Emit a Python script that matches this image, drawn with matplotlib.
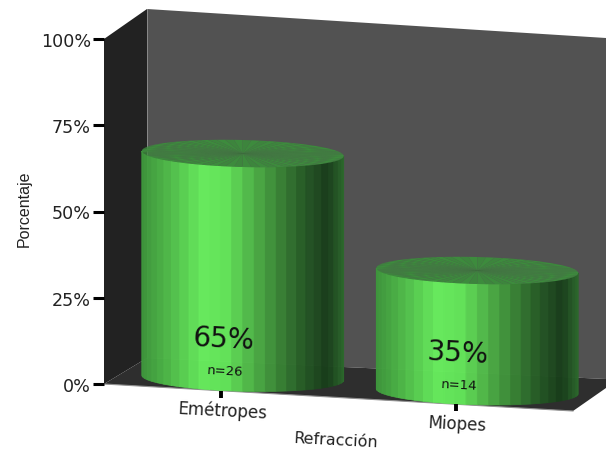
import numpy as np
import matplotlib
matplotlib.use('Agg')
import matplotlib.pyplot as plt
from matplotlib.patches import Polygon

categories = ['Emétropes', 'Miopes']
percentages = [65, 35]
counts = [26, 14]
y_ticks = [0, 25, 50, 75, 100]

# oblique box: 0-1 along the front edge, 0-1 in depth, pixels per percent
FRONT_W, FRONT_DROP = 469, 27
DEPTH_X, DEPTH_Y = 43, 26
PCT_PX = 3.45
RADIUS_X, RADIUS_Y = 101, 13.5
TILT = 0.025

def project(u, pct=0, d=0):
    x = 104 + FRONT_W * u + DEPTH_X * d
    y = 385 + FRONT_DROP * u - DEPTH_Y * d - PCT_PX * pct
    return x, y

# side shading from left edge to right edge of the cylinder
shade_pos = [0.0, 0.12, 0.30, 0.42, 0.62, 0.80, 0.92, 1.0]
shade_rgb = [(62, 150, 60), (78, 185, 72), (104, 240, 94), (100, 232, 90),
             (68, 155, 62), (38, 92, 38), (24, 60, 26), (44, 105, 44)]

def side_colour(t):
    return tuple(np.interp(t, shade_pos, [c[i] for c in shade_rgb]) / 255 for i in range(3))

def draw_cylinder(ax, cx, cy, height, n_facets=28):
    angles = np.linspace(np.pi, 0, n_facets + 1)
    for a0, a1 in zip(angles[:-1], angles[1:]):
        arc = np.linspace(a0, a1, 4)
        xs = cx + RADIUS_X * np.cos(arc)
        ys = cy + RADIUS_Y * np.sin(arc) + TILT * RADIUS_X * np.cos(arc)
        pts = list(zip(xs, ys - height)) + list(zip(xs[::-1], ys[::-1]))
        t = (np.cos((a0 + a1) / 2) + 1) / 2
        ax.add_patch(Polygon(pts, closed=True, facecolor=side_colour(t),
                             edgecolor=side_colour(t), lw=0.5, alpha=0.96, zorder=3))
    # top face, built of thin wedges
    wedge_angles = np.linspace(0, 2 * np.pi, 73)
    tx = cx + RADIUS_X * np.cos(wedge_angles)
    ty = cy - height + RADIUS_Y * np.sin(wedge_angles) + TILT * RADIUS_X * np.cos(wedge_angles)
    for i in range(72):
        g = 0.52 + 0.025 * (i % 2)
        ax.add_patch(Polygon([(cx, cy - height), (tx[i], ty[i]), (tx[i + 1], ty[i + 1])],
                             facecolor=(0.24, g, 0.24), edgecolor='none', zorder=4))

plt.rcParams['font.family'] = ['DejaVu Sans']
fig = plt.figure(figsize=(6.06, 4.52), dpi=100)
ax = fig.add_axes([0, 0, 1, 1])
ax.set_xlim(0, 606)
ax.set_ylim(452, 0)
ax.axis('off')

# walls and floor
ax.add_patch(Polygon([(147, 10), (606, 39), (606, 380), (147, 359)], facecolor='#525252', edgecolor='none', zorder=1))
ax.add_patch(Polygon([(104, 40), (147, 10), (147, 359), (104, 385)], facecolor='#222222', edgecolor='none', zorder=1))
ax.add_patch(Polygon([(104, 385), (147, 359), (606, 380), (606, 389), (573, 412)], facecolor='#2e2e2e', edgecolor='none', zorder=2))
ax.plot([147, 147], [10, 359], color='#8a8a8a', lw=0.7, zorder=2)
ax.plot([104, 573], [385, 412], color='#909090', lw=0.8, zorder=2)

# percent axis
for tick in y_ticks:
    x0, y0 = project(0, tick)
    ax.plot([x0 - 11, x0], [y0, y0], color='black', lw=2.2, solid_capstyle='butt', zorder=5)
    ax.text(x0 - 13, y0, f'{tick}%', ha='right', va='center_baseline', fontsize=12.6, color='#222222')

# cylinders with their labels
for i, (name, pct, n) in enumerate(zip(categories, percentages, counts)):
    u = 0.25 + 0.5 * i
    cx, cy = project(u, 0, 0.5)
    draw_cylinder(ax, cx, cy, pct * PCT_PX)
    tx, ty = project(u)
    ax.plot([tx, tx], [ty, ty + 7], color='black', lw=2.8, solid_capstyle='butt', zorder=5)
    ax.text(tx + 1, ty + 19, name, ha='center', va='center', fontsize=12, rotation=-3, color='#222222')
    ax.text(cx - 19, cy - 39, f'{pct}%', ha='center', va='center', fontsize=20, rotation=-3, color='#111111', zorder=6)
    ax.text(cx - 18, cy - 7, f'n={n}', ha='center', va='center', fontsize=9.5, rotation=-3, color='#111111', zorder=6)

ax.text(336, 441, 'Refracción', ha='center', va='center', fontsize=11.5, rotation=-3, color='#222222')
ax.text(24, 209, 'Porcentaje', ha='center', va='center', fontsize=11.5, rotation=90, color='#222222',
        family=['Liberation Sans Narrow', 'Liberation Sans'])

fig.savefig('out.png', dpi=100)
